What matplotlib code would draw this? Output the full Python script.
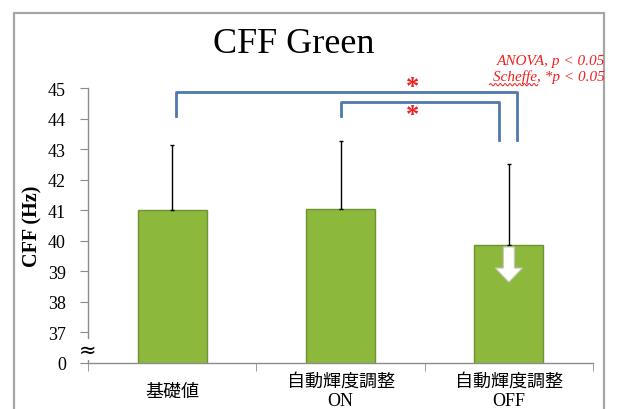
import numpy as np
import matplotlib
matplotlib.use("Agg")
import matplotlib.pyplot as plt
from matplotlib.patches import Rectangle, FancyArrow
from matplotlib.lines import Line2D

# CFF (green stimulus) by brightness condition
categories = ["基礎値", "自動輝度調整\nON", "自動輝度調整\nOFF"]
means = [41.0, 41.05, 39.85]
sds = [2.14, 2.23, 2.67]
ytick_values = [36, 37, 38, 39, 40, 41, 42, 43, 44, 45]
ytick_labels = ["0", "37", "38", "39", "40", "41", "42", "43", "44", "45"]

# significance brackets: (left x, right x, height, left foot, right foot)
brackets = [(0.02, 2.05, 44.89, 44.09, 43.32), (1.0, 1.94, 44.54, 44.09, 43.32)]
star_x = 1.43
star_y = [45.05, 44.15]

serif = ["Liberation Serif", "Noto Sans CJK JP"]
plt.rcParams["font.family"] = serif

fig = plt.figure(figsize=(6.18, 4.10), dpi=100)
ax = fig.add_axes([0.1424, 0.1122, 0.8172, 0.670])

x = np.arange(len(categories))
bars = ax.bar(x, means, width=0.41, color="#8CB83C", edgecolor="#6F9330",
              linewidth=1.0, zorder=2)
ax.errorbar(x, means, yerr=[np.zeros(len(sds)), sds], fmt="none",
            ecolor="black", elinewidth=1.0, capsize=1.5, capthick=1.0, zorder=3)

ax.set_xlim(-0.5, 2.5)
ax.set_ylim(36, 45)
ax.set_yticks(ytick_values, ytick_labels)
ax.set_xticks(x, categories)
ax.set_xticks([-0.5, 0.5, 1.5, 2.5], minor=True)

for s in ["top", "right"]:
    ax.spines[s].set_visible(False)
for s in ["left", "bottom"]:
    ax.spines[s].set_color("#8C8C8C")
    ax.spines[s].set_linewidth(1.0)

ax.tick_params(axis="y", length=6, color="#8C8C8C", labelsize=13, pad=10)
ax.tick_params(axis="x", which="major", length=0, labelsize=13, pad=20)
ax.tick_params(axis="x", which="minor", length=6, color="#8C8C8C")
for lab in ax.get_xticklabels():
    lab.set_verticalalignment("center")
    lab.set_linespacing(1.12)

ax.set_ylabel("CFF (Hz)", fontsize=14.5, fontweight="bold", labelpad=4)
fig.text(0.476, 0.891, "CFF Green", ha="center", va="center", fontsize=26)

# axis break marker between 0 and 37
ax.text(-0.5, 36.45, "≈", ha="center", va="center", fontsize=15,
        family="DejaVu Sans", clip_on=False, zorder=5,
        bbox=dict(facecolor="white", edgecolor="none", pad=0.5))

# significance brackets and stars
blue = "#4F79AE"
for x0, x1, h, f0, f1 in brackets:
    ax.plot([x0, x0, x1, x1], [f0, h, h, f1], color=blue, lw=2.0,
            clip_on=False, zorder=4)
for ys in star_y:
    ax.text(star_x, ys, "*", ha="center", va="center", color="#F02020",
            fontsize=19, fontweight="bold", clip_on=False)

# decrease arrow inside the OFF bar
ax.add_patch(FancyArrow(x[2], means[2] - 0.05, 0, -1.15, width=0.065,
                        head_width=0.16, head_length=0.46,
                        length_includes_head=True, facecolor="white",
                        edgecolor="#C8C8C8", linewidth=0.8, zorder=4))

# statistics note
red = "#F02020"
fig.text(0.979, 0.851, "ANOVA, p < 0.05", ha="right", va="center",
         color=red, fontsize=11, style="italic")
fig.text(0.979, 0.812, "Scheffe, *p < 0.05", ha="right", va="center",
         color=red, fontsize=11, style="italic")

# wavy spell-check underline under "Scheffe"
wx = np.linspace(0, 1, 60)
wave_x = 0.792 + 0.078 * wx
wave_y = 0.791 + 0.003 * np.sin(wx * 2 * np.pi * 10)
fig.add_artist(Line2D(wave_x, wave_y, color=red, lw=0.7))

# outer chart frame
fig.add_artist(Rectangle((0.0227, -0.1), 0.9546, 1.0659, fill=False,
                         edgecolor="#A6A6A6", linewidth=1.6))

fig.savefig("out.png", dpi=100)
